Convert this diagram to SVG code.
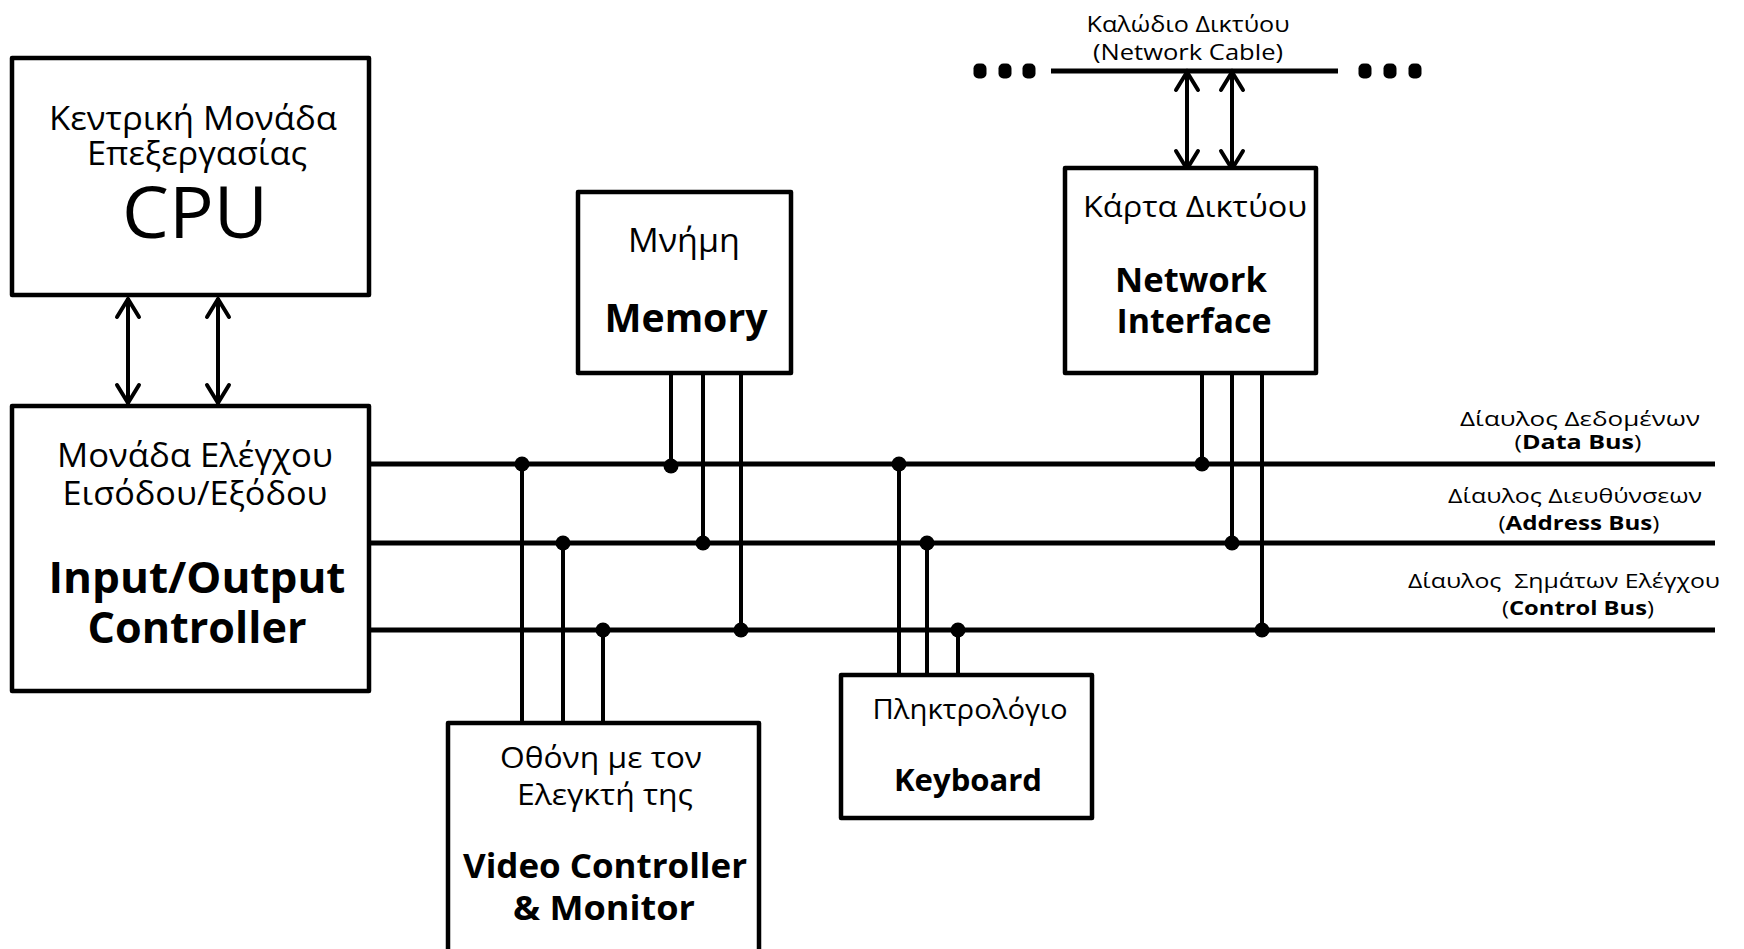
<svg xmlns="http://www.w3.org/2000/svg" width="1744" height="949" viewBox="0 0 1744 949">
  <style>
    .box { fill: #ffffff; stroke: #000000; stroke-width: 4.5; stroke-linejoin: round; }
    .bus { stroke: #000000; stroke-width: 5; fill: none; }
    .tap { stroke: #000000; stroke-width: 4; fill: none; }
    .arr { stroke: #000000; stroke-width: 4; fill: none; marker-start: url(#head); marker-end: url(#head); }
    .dot { fill: #000000; }
    text { font-family: "Open Sans", "Noto Sans", "DejaVu Sans", sans-serif; fill: #000000; text-anchor: middle; }
    .gr { font-size: 32px; }
    .bold { font-weight: bold; }
    .lbl { font-size: 20px; }
    .cab { font-size: 22px; }
  </style>
  <defs>
    <marker id="head" viewBox="-24 -14 28 28" refX="0" refY="0" markerWidth="28" markerHeight="28" markerUnits="userSpaceOnUse" orient="auto-start-reverse">
      <path d="M-19,-11 L-1,0 L-19,11" fill="none" stroke="#000000" stroke-width="4" stroke-linecap="round"/>
    </marker>
  </defs>

  <rect width="1744" height="949" fill="#ffffff"/>

  <!-- connectors: buses, taps, arrows, network cable -->
  <g id="connectors">
    <!-- system buses -->
    <line class="bus" x1="369" y1="464" x2="1715" y2="464"/>
    <line class="bus" x1="369" y1="543" x2="1715" y2="543"/>
    <line class="bus" x1="369" y1="630" x2="1715" y2="630"/>

    <!-- CPU <-> I/O controller -->
    <line class="arr" x1="128" y1="298" x2="128" y2="404"/>
    <line class="arr" x1="218" y1="298" x2="218" y2="404"/>

    <!-- network cable -->
    <line class="bus" x1="1051" y1="71" x2="1338" y2="71"/>
    <rect class="dot" x="973.5" y="63.5" width="13" height="15" rx="5"/>
    <rect class="dot" x="998.5" y="63.5" width="13" height="15" rx="5"/>
    <rect class="dot" x="1022.5" y="63.5" width="13" height="15" rx="5"/>
    <rect class="dot" x="1358.5" y="63.5" width="13" height="15" rx="5"/>
    <rect class="dot" x="1383.5" y="63.5" width="13" height="15" rx="5"/>
    <rect class="dot" x="1408.5" y="63.5" width="13" height="15" rx="5"/>
    <line class="arr" x1="1187" y1="71" x2="1187" y2="170"/>
    <line class="arr" x1="1232" y1="71" x2="1232" y2="170"/>

    <!-- memory taps -->
    <line class="tap" x1="671" y1="374" x2="671" y2="466"/>
    <line class="tap" x1="703" y1="374" x2="703" y2="543"/>
    <line class="tap" x1="741" y1="374" x2="741" y2="630"/>
    <circle class="dot" cx="671" cy="466" r="7.5"/>
    <circle class="dot" cx="703" cy="543" r="7.5"/>
    <circle class="dot" cx="741" cy="630" r="7.5"/>

    <!-- network interface taps -->
    <line class="tap" x1="1202" y1="373" x2="1202" y2="464"/>
    <line class="tap" x1="1232" y1="373" x2="1232" y2="543"/>
    <line class="tap" x1="1262" y1="373" x2="1262" y2="630"/>
    <circle class="dot" cx="1202" cy="464" r="7.5"/>
    <circle class="dot" cx="1232" cy="543" r="7.5"/>
    <circle class="dot" cx="1262" cy="630" r="7.5"/>

    <!-- video controller taps -->
    <line class="tap" x1="522" y1="464" x2="522" y2="723"/>
    <line class="tap" x1="563" y1="543" x2="563" y2="723"/>
    <line class="tap" x1="603" y1="630" x2="603" y2="723"/>
    <circle class="dot" cx="522" cy="464" r="7.5"/>
    <circle class="dot" cx="563" cy="543" r="7.5"/>
    <circle class="dot" cx="603" cy="630" r="7.5"/>

    <!-- keyboard taps -->
    <line class="tap" x1="899" y1="464" x2="899" y2="675"/>
    <line class="tap" x1="927" y1="543" x2="927" y2="675"/>
    <line class="tap" x1="958" y1="630" x2="958" y2="675"/>
    <circle class="dot" cx="899" cy="464" r="7.5"/>
    <circle class="dot" cx="927" cy="543" r="7.5"/>
    <circle class="dot" cx="958" cy="630" r="7.5"/>
  </g>

  <!-- CPU -->
  <g id="cpu">
    <rect class="box" x="12" y="58" width="357" height="237"/>
    <text class="gr" x="193" y="130" textLength="288" lengthAdjust="spacingAndGlyphs">Κεντρική Μονάδα</text>
    <text class="gr" x="197" y="165" textLength="220" lengthAdjust="spacingAndGlyphs">Επεξεργασίας</text>
    <text x="195" y="238" font-size="72" textLength="146" lengthAdjust="spacingAndGlyphs">CPU</text>
  </g>

  <!-- Input/Output controller -->
  <g id="io-controller">
    <rect class="box" x="12" y="406" width="357" height="285"/>
    <text class="gr" x="195" y="467" textLength="276" lengthAdjust="spacingAndGlyphs">Μονάδα Ελέγχου</text>
    <text class="gr" x="195" y="505" textLength="265" lengthAdjust="spacingAndGlyphs">Εισόδου/Εξόδου</text>
    <text class="bold" x="197" y="593" font-size="43" textLength="297" lengthAdjust="spacingAndGlyphs">Input/Output</text>
    <text class="bold" x="197" y="643" font-size="43" textLength="219" lengthAdjust="spacingAndGlyphs">Controller</text>
  </g>

  <!-- Memory -->
  <g id="memory">
    <rect class="box" x="578" y="192" width="213" height="181"/>
    <text class="gr" x="684" y="252" textLength="112" lengthAdjust="spacingAndGlyphs">Μνήμη</text>
    <text class="bold" x="686" y="332" font-size="40" textLength="163" lengthAdjust="spacingAndGlyphs">Memory</text>
  </g>

  <!-- Network interface -->
  <g id="network-interface">
    <rect class="box" x="1065" y="168" width="251" height="205"/>
    <text x="1195" y="217" font-size="30" textLength="224" lengthAdjust="spacingAndGlyphs">Κάρτα Δικτύου</text>
    <text class="bold" x="1191" y="292" font-size="34" textLength="152" lengthAdjust="spacingAndGlyphs">Network</text>
    <text class="bold" x="1194" y="333" font-size="34" textLength="155" lengthAdjust="spacingAndGlyphs">Interface</text>
  </g>

  <!-- Network cable -->
  <g id="network-cable">
    <text class="cab" x="1188" y="32" textLength="203" lengthAdjust="spacingAndGlyphs">Καλώδιο Δικτύου</text>
    <text class="cab" x="1188" y="60" textLength="190" lengthAdjust="spacingAndGlyphs">(Network Cable)</text>
  </g>

  <!-- Keyboard -->
  <g id="keyboard">
    <rect class="box" x="841" y="675" width="251" height="143"/>
    <text x="970" y="719" font-size="28" textLength="195" lengthAdjust="spacingAndGlyphs">Πληκτρολόγιο</text>
    <text class="bold" x="968" y="791" font-size="31" textLength="148" lengthAdjust="spacingAndGlyphs">Keyboard</text>
  </g>

  <!-- Video controller and monitor -->
  <g id="video">
    <rect class="box" x="448" y="723" width="311" height="260"/>
    <text x="601" y="768" font-size="30" textLength="202" lengthAdjust="spacingAndGlyphs">Οθόνη με τον</text>
    <text x="605" y="805" font-size="30" textLength="176" lengthAdjust="spacingAndGlyphs">Ελεγκτή της</text>
    <text class="bold" x="605" y="878" font-size="34" textLength="284" lengthAdjust="spacingAndGlyphs">Video Controller</text>
    <text class="bold" x="604" y="920" font-size="34" textLength="182" lengthAdjust="spacingAndGlyphs">&amp; Monitor</text>
  </g>

  <!-- Bus labels -->
  <g id="data-bus">
    <text class="lbl" x="1580" y="426" textLength="240" lengthAdjust="spacingAndGlyphs">Δίαυλος Δεδομένων</text>
    <text class="lbl" x="1578" y="449" textLength="127" lengthAdjust="spacingAndGlyphs">(<tspan class="bold">Data Bus</tspan>)</text>
  </g>
  <g id="address-bus">
    <text class="lbl" x="1575" y="503" textLength="254" lengthAdjust="spacingAndGlyphs">Δίαυλος Διευθύνσεων</text>
    <text class="lbl" x="1579" y="530" textLength="161" lengthAdjust="spacingAndGlyphs">(<tspan class="bold">Address Bus</tspan>)</text>
  </g>
  <g id="control-bus">
    <text class="lbl" x="1564" y="588" textLength="312" lengthAdjust="spacingAndGlyphs" style="white-space:pre">Δίαυλος  Σημάτων Ελέγχου</text>
    <text class="lbl" x="1578" y="615" textLength="152" lengthAdjust="spacingAndGlyphs">(<tspan class="bold">Control Bus</tspan>)</text>
  </g>
</svg>
